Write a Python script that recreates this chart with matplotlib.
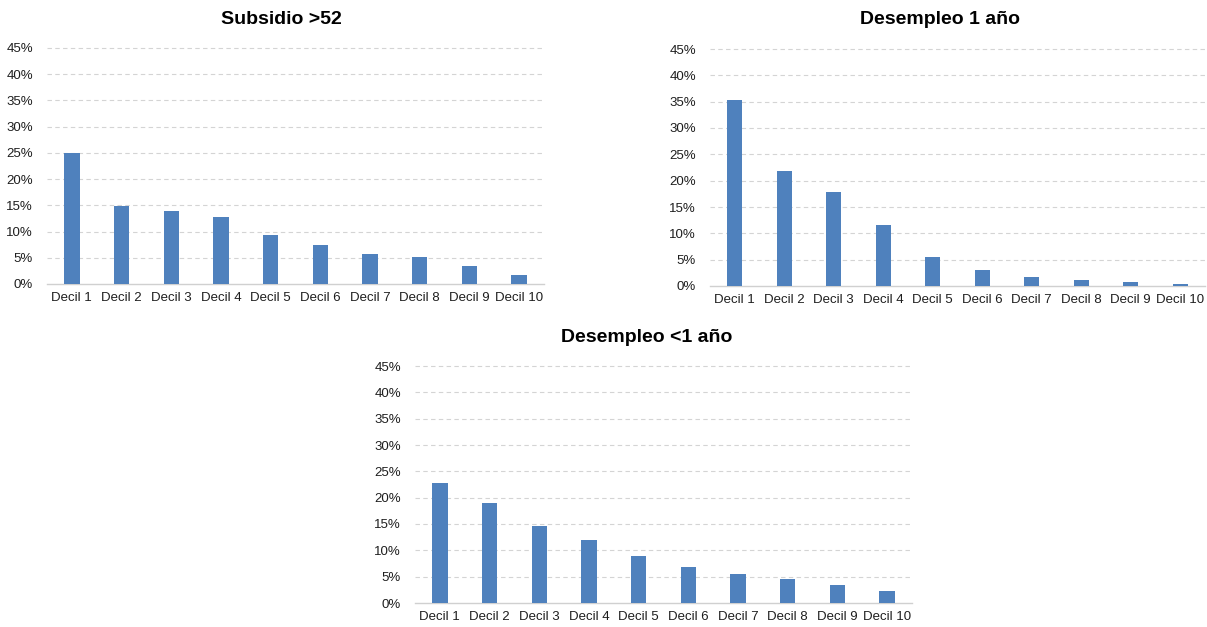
import matplotlib
matplotlib.use('Agg')
import matplotlib.pyplot as plt
import numpy as np

plt.rcParams['font.family'] = ['Liberation Sans', 'DejaVu Sans']

deciles = ['Decil 1', 'Decil 2', 'Decil 3', 'Decil 4', 'Decil 5',
           'Decil 6', 'Decil 7', 'Decil 8', 'Decil 9', 'Decil 10']

# share of each group per income decile (%)
subsidio_52 = [24.9, 14.8, 13.9, 12.7, 9.3, 7.5, 5.8, 5.2, 3.5, 1.8]
desempleo_1 = [35.4, 21.9, 17.8, 11.6, 5.6, 3.1, 1.8, 1.2, 0.7, 0.3]
desempleo_menos_1 = [22.8, 18.9, 14.6, 11.9, 8.9, 6.9, 5.5, 4.6, 3.4, 2.3]

titles = ['Subsidio >52', 'Desempleo 1 año', 'Desempleo <1 año']
yticks = [0, 5, 10, 15, 20, 25, 30, 35, 40, 45]

W, H = 1207, 627
fig = plt.figure(figsize=(W / 100, H / 100), dpi=100)
fig.patch.set_facecolor('white')

def px_axes(left, right, top, bottom):
    return fig.add_axes([left / W, 1 - bottom / H, (right - left) / W, (bottom - top) / H])

def draw_panel(ax, values):
    x = np.arange(len(deciles))
    ax.bar(x, values, width=0.31, color='#4f81bd', zorder=3)
    ax.set_xlim(-0.5, len(deciles) - 0.5)
    ax.set_ylim(0, 45)
    ax.set_yticks(yticks)
    ax.set_yticklabels([f'{v}%' for v in yticks])
    ax.set_xticks(x)
    ax.set_xticklabels(deciles)
    ax.tick_params(axis='both', length=0, labelsize=9.5, colors='#1e1e1e')
    ax.tick_params(axis='y', pad=10)
    ax.tick_params(axis='x', pad=6)
    for v in yticks[1:]:
        ax.axhline(v, color='#d4d4d4', linestyle=(0, (4, 3)), linewidth=0.8,
                   zorder=1, clip_on=False)
    for s in ['top', 'right', 'left']:
        ax.spines[s].set_visible(False)
    ax.spines['bottom'].set_color('#d0d0d0')
    ax.spines['bottom'].set_linewidth(1.0)
    ax.set_facecolor('none')

ax1 = px_axes(47, 544, 48, 284)
draw_panel(ax1, subsidio_52)
ax2 = px_axes(710, 1205, 49, 286)
draw_panel(ax2, desempleo_1)
ax3 = px_axes(415, 912, 366, 603)
draw_panel(ax3, desempleo_menos_1)

fig.text(281 / W, 1 - 19 / H, titles[0], ha='center', va='center',
         fontsize=14, fontweight='bold')
fig.text(940 / W, 1 - 20 / H, titles[1], ha='center', va='center',
         fontsize=14, fontweight='bold')
fig.text(647 / W, 1 - 337 / H, titles[2], ha='center', va='center',
         fontsize=14, fontweight='bold')

fig.savefig('out.png', dpi=100, facecolor='white')
